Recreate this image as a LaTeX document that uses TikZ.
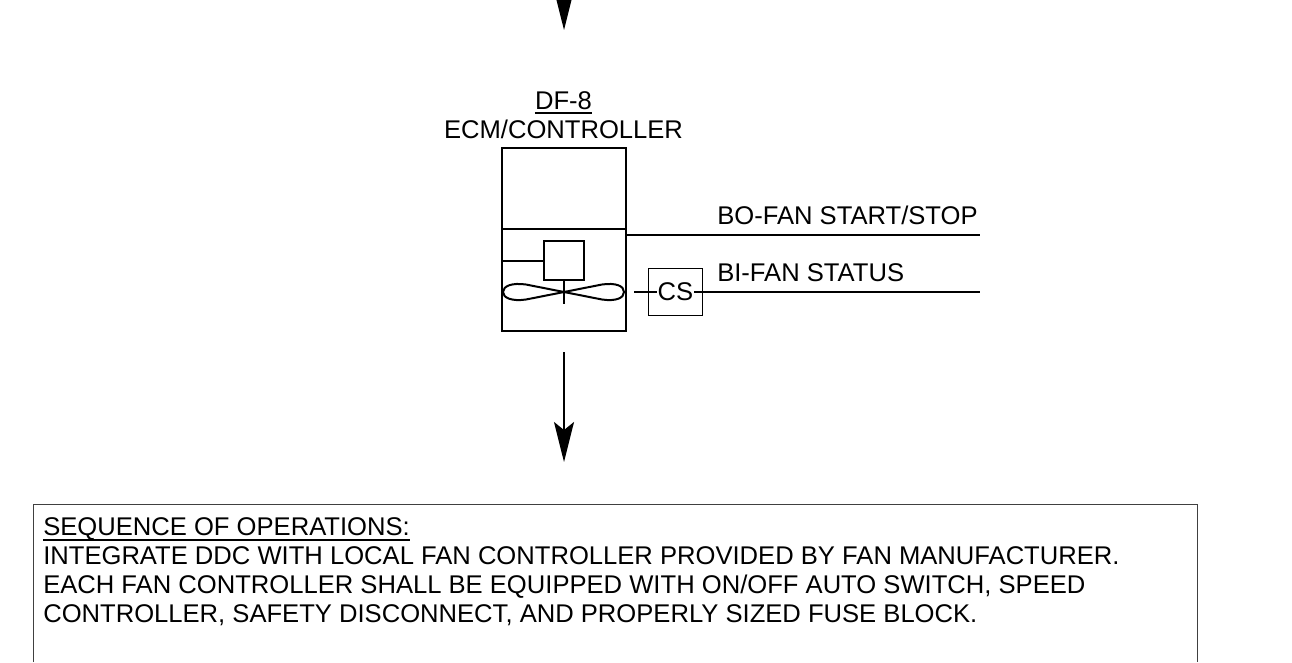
\documentclass[tikz,border=0pt]{standalone}
\usepackage{fontspec}
\setmainfont{Liberation Sans}
\usetikzlibrary{arrows.meta}
\tikzset{
  heavy/.style={line width=1.5pt},
  thin box/.style={draw,line width=.75pt,inner sep=0pt},
  flowarr/.style={-{Stealth[length=30pt,width=15pt,inset=6pt]},line width=1.5pt},
  lbl/.style={font=\fontsize{19.2}{22}\selectfont,inner sep=0pt},
  lblleft/.style={lbl,anchor=base west}
}

\begin{document}
\begin{tikzpicture}[x=.75pt,y=-.75pt]
  \useasboundingbox (0,0) rectangle (1292,662);
  \clip (0,0) rectangle (1292,662);

  % top and bottom air flow
  \coordinate (topstart) at (564,-30);
  \coordinate (toptip) at (564,30);
  \draw[flowarr] (topstart) -- (toptip);
  \coordinate (flowstart) at (564,352);
  \coordinate (flowtip) at (564,462);
  \draw[flowarr] (flowstart) -- (flowtip);

  % fan housing
  \node[lbl,anchor=base] (tag) at (563.5,109) {DF-8};
  \draw[heavy] ([yshift=-3pt]tag.base west) -- ([yshift=-3pt]tag.base east);
  \node[lbl,anchor=base] (ecm) at (563.5,138) {ECM/CONTROLLER};
  \node[draw,heavy,minimum width=93pt,minimum height=137.25pt,inner sep=0pt] (unit) at (564,239.5) {};
  \coordinate (divl) at (502,229);
  \coordinate (divr) at (626,229);
  \draw[heavy] (divl) -- (divr);

  % motor and fan
  \node[draw,heavy,minimum width=30pt,minimum height=29.25pt,inner sep=0pt] (motor) at (564,260.5) {};
  \coordinate (motl) at (502,260.5);
  \coordinate (hub) at (564,292);
  \coordinate (stem) at (564,304);
  \draw[heavy] (motl) -- (motor.west);
  \draw[heavy] (motor.south) -- (stem);
  \draw[heavy,line join=round] (hub) -- (526,284.5)
    .. controls (512,282.5) and (503,286) .. (503,292)
    .. controls (503,298) and (512,301.5) .. (526,299.5)
    -- (hub) -- (602,284.5)
    .. controls (616,282.5) and (624,286) .. (624,292)
    .. controls (624,298) and (616,301.5) .. (602,299.5)
    -- (hub);

  % points
  \coordinate (boa) at (626,234.5);
  \coordinate (bob) at (980,234.5);
  \draw[heavy] (boa) -- (bob);
  \node[lblleft] (bolbl) at (717,224) {BO-FAN START/STOP};
  \node[thin box,minimum width=41pt,minimum height=35.25pt] (csbox) at (675.5,291.5) {};
  \node[lbl,inner sep=.5pt] (cs) at (675.5,292) {CS};
  \coordinate (csl) at (634,292);
  \coordinate (csr) at (980,292);
  \draw[heavy] (csl) -- (cs);
  \draw[heavy] (cs) -- (csr);
  \node[lblleft] (bilbl) at (717,281) {BI-FAN STATUS};

  % sequence box
  \coordinate (boxbl) at (33,662);
  \coordinate (boxtl) at (33,504);
  \coordinate (boxtr) at (1197.5,504);
  \coordinate (boxbr) at (1197.5,662);
  \draw[line width=.75pt,black!75] (boxbl) -- (boxtl) -- (boxtr) -- (boxbr);
  \node[lblleft] (seqa) at (43,535) {SEQUENCE OF OPERATIONS:};
  \draw[line width=1.9pt] ([yshift=-3.9pt]seqa.base west) -- ([yshift=-3.9pt]seqa.base east);
  \node[lblleft] (seqb) at (43,564) {INTEGRATE DDC WITH LOCAL FAN CONTROLLER PROVIDED BY FAN MANUFACTURER.};
  \node[lblleft] (seqc) at (43,593) {EACH FAN CONTROLLER SHALL BE EQUIPPED WITH ON/OFF AUTO SWITCH, SPEED};
  \node[lblleft] (seqd) at (43,622) {CONTROLLER, SAFETY DISCONNECT, AND PROPERLY SIZED FUSE BLOCK.};
\end{tikzpicture}
\end{document}
